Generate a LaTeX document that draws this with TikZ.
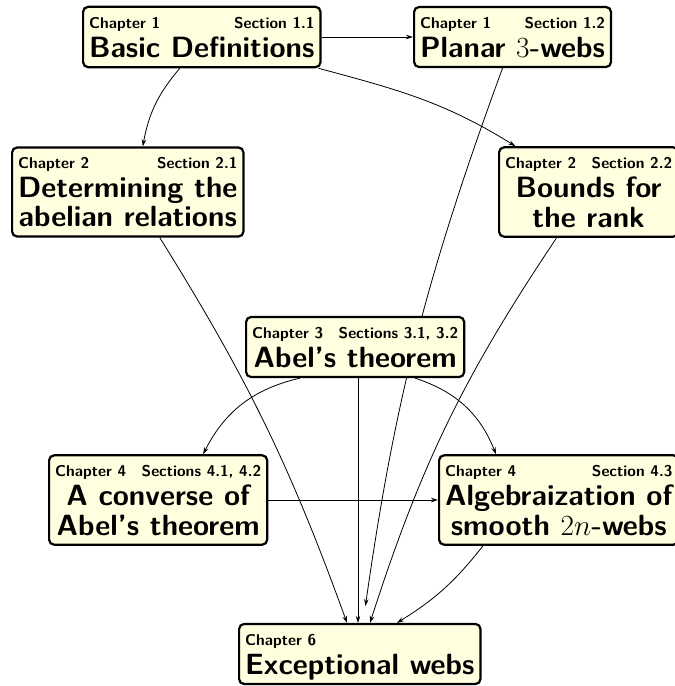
\RequirePackage{fix-cm}
\documentclass[tikz,border=0pt]{standalone}
\usepackage{fontspec}
\usetikzlibrary{arrows.meta,backgrounds}
\definecolor{boxfill}{RGB}{255,254,222}
\newcommand\chapfont{\fontsize{15.6}{17}\selectfont}
\newcommand\hdr[2]{{\chapfont #1\hspace{1em plus 1fill}#2\null}\\}
\tikzset{
  chapbox/.style={draw, line width=2.2pt, rounded corners=5pt, fill=boxfill,
    inner xsep=6pt, inner ysep=1pt, anchor=west,
    font=\sffamily\bfseries\fontsize{29.3}{29}\selectfont},
  link/.style={line width=0.8pt, -{Stealth[length=7pt,width=4.5pt]}}
}
\begin{document}
\begin{tikzpicture}[x=1pt,y=1pt]
\useasboundingbox (0,0) rectangle (675,-686);
\node[chapbox] (B1) at (82,-37) {\begin{tabular}{@{}c@{}}\hdr{Chapter 1}{Section 1.1}Basic Definitions\end{tabular}};
\node[chapbox] (P) at (413,-37) {\begin{tabular}{@{}c@{}}\hdr{Chapter 1}{Section 1.2}Planar $3$-webs\end{tabular}};
\node[chapbox] (D) at (11,-192) {\begin{tabular}{@{}c@{}}\hdr{Chapter 2}{Section 2.1}Determining the\\abelian relations\end{tabular}};
\node[chapbox] (Bo) at (498,-192) {\begin{tabular}{@{}c@{}}\hdr{Chapter 2}{Section 2.2}Bounds for\\the rank\end{tabular}};
\node[chapbox] (A) at (245,-347) {\begin{tabular}{@{}c@{}}\hdr{Chapter 3}{Sections 3.1, 3.2}Abel's theorem\end{tabular}};
\node[chapbox] (C) at (48,-500) {\begin{tabular}{@{}c@{}}\hdr{Chapter 4}{Sections 4.1, 4.2}A converse of\\Abel's theorem\end{tabular}};
\node[chapbox] (Al) at (438,-500) {\begin{tabular}{@{}c@{}}\hdr{Chapter 4}{Section 4.3}Algebraization of\\smooth $2n$-webs\end{tabular}};
\node[chapbox] (E) at (238,-654) {\begin{tabular}{@{}c@{}}\hdr{Chapter 6}{}Exceptional webs\end{tabular}};
\begin{scope}[on background layer]
\draw[link] (B1) -- (P);
\draw[link] ([xshift=-22pt]B1.south) to[bend right=15] ([xshift=15pt]D.north);
\draw[link] (B1) to[out=-15,in=148] (Bo);
\draw[link, shorten >=17pt] ([xshift=-10pt]P.south) to[bend right=6] ([xshift=125pt]E.north west);
\draw[link] ([xshift=32pt]D.south) to[bend left=6] ([xshift=109pt]E.north west);
\draw[link] ([xshift=-32pt]Bo.south) to[bend right=8] ([xshift=132pt]E.north west);
\draw[link] ([xshift=55pt]A.south west) to[bend right=25] ([xshift=45pt]C.north);
\draw[link] ([xshift=170pt]A.south west) to[bend left=25] ([xshift=58pt]Al.north west);
\draw[link] ([xshift=113pt]A.south west) -- ([xshift=120pt]E.north west);
\draw[link] (C) -- (Al);
\draw[link] ([xshift=45pt]Al.south west) to[bend left=10] ([xshift=159pt]E.north west);
\end{scope}
\end{tikzpicture}
\end{document}
